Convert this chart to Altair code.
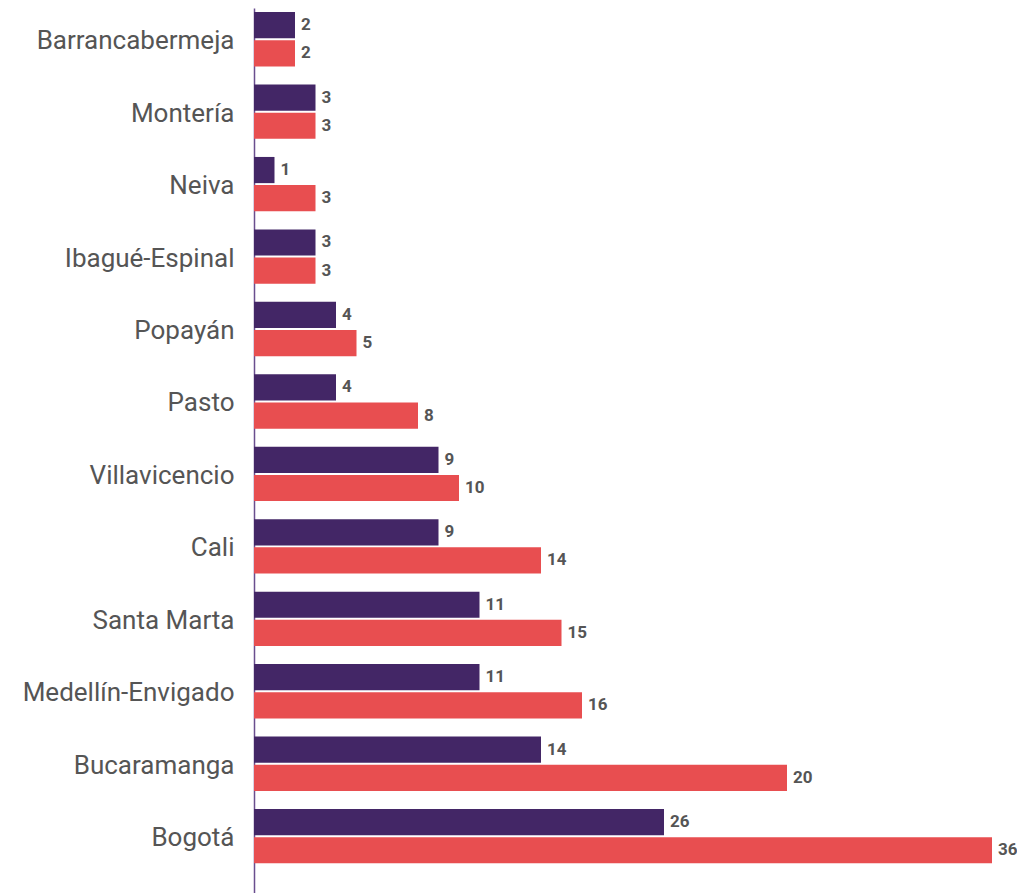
import altair as alt
import pandas as pd

cities = ["Barrancabermeja", "Montería", "Neiva", "Ibagué-Espinal", "Popayán", "Pasto",
          "Villavicencio", "Cali", "Santa Marta", "Medellín-Envigado", "Bucaramanga", "Bogotá"]
series = ["Serie 1", "Serie 2"]
serie1_values = [2, 3, 1, 3, 4, 4, 9, 9, 11, 11, 14, 20]
serie2_values = [2, 3, 3, 3, 5, 8, 10, 14, 15, 16, 26, 36]
serie1_labels = ["2", "3", "1", "3", "4", "4", "9", "9", "11", "11", "14", "26"]
serie2_labels = ["2", "3", "3", "3", "5", "8", "10", "14", "15", "16", "20", "36"]
colors = ["#432666", "#e84e50"]

rows = []
for i, c in enumerate(cities):
    rows.append({"ciudad": c, "serie": series[0], "valor": serie1_values[i], "etiqueta": serie1_labels[i]})
    rows.append({"ciudad": c, "serie": series[1], "valor": serie2_values[i], "etiqueta": serie2_labels[i]})
df = pd.DataFrame(rows)

y = alt.Y("ciudad:N", sort=cities, title=None,
          scale=alt.Scale(paddingInner=0.25, paddingOuter=0.2325, align=0.12),
          axis=alt.Axis(ticks=False, labelPadding=20, labelFont="Roboto", labelFontSize=26,
                        labelColor="#555555", domainColor="#6a4e8e", domainWidth=1.5,
                        labelLimit=300, labelOffset=2))
yoff = alt.YOffset("serie:N", sort=series,
                   scale=alt.Scale(paddingInner=0.07, paddingOuter=0))
x = alt.X("valor:Q", title=None, scale=alt.Scale(domain=[0, 36], nice=False, zero=True),
          axis=None)

base = alt.Chart(df)
bars = base.mark_bar().encode(
    x=x, y=y, yOffset=yoff,
    color=alt.Color("serie:N", sort=series, scale=alt.Scale(domain=series, range=colors), legend=None),
)
labels = base.mark_text(align="left", baseline="middle", dx=6, font="Roboto",
                        fontSize=17, fontWeight="bold", color="#555555").encode(
    x=x, y=y, yOffset=yoff, text="etiqueta:N"
)

chart = (bars + labels).properties(
    width=738, height=885,
    padding={"left": 246, "top": 0, "right": 25, "bottom": 0},
    autosize=alt.AutoSizeParams(type="none"),
).configure_view(stroke=None).configure_axis(grid=False)

chart.save("out.html", embed_options={"renderer": "svg", "actions": False})
